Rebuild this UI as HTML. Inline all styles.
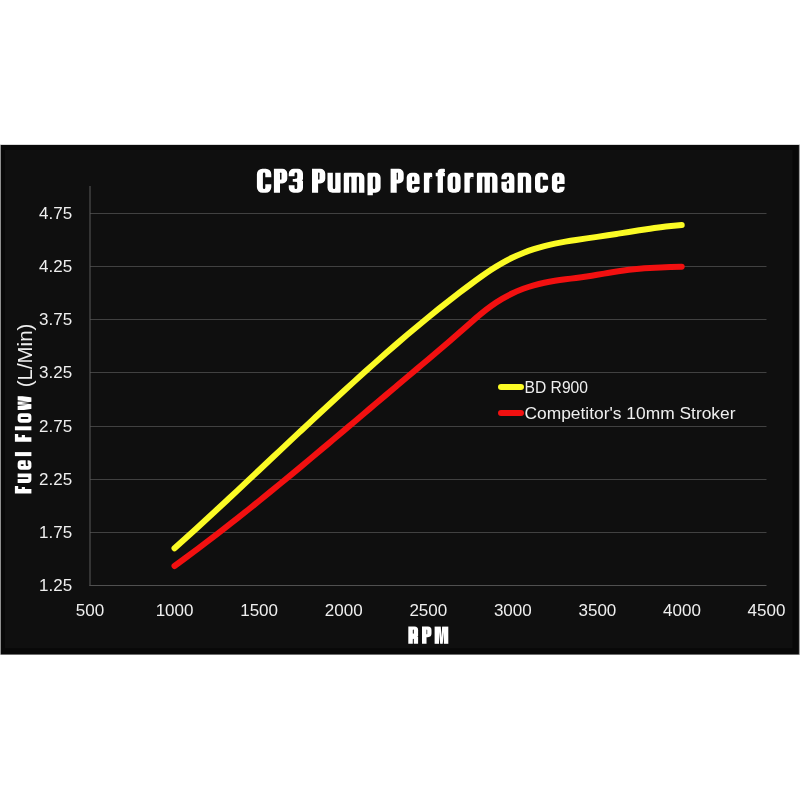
<!DOCTYPE html>
<html>
<head>
<meta charset="utf-8">
<title>CP3 Pump Performance</title>
<style>
  html, body { margin: 0; padding: 0; background: #ffffff; }
  body { width: 800px; height: 800px; overflow: hidden; font-family: "Liberation Sans", sans-serif; }
  svg { display: block; will-change: transform; }
  text { font-family: "Liberation Sans", sans-serif; }
  .tick { font-size: 17px; fill: #efefef; }
</style>
</head>
<body>
<svg width="800" height="800" viewBox="0 0 800 800">
  <rect x="0" y="0" width="800" height="800" fill="#ffffff"/>
  <!-- chart panel -->
  <rect x="0" y="144.6" width="800" height="510.2" fill="#a0a0a0"/>
  <rect x="0.9" y="145" width="798" height="509.4" fill="#080808"/>
  <rect x="5" y="150" width="787.5" height="498.2" fill="#0f0f0f"/>

  <!-- gridlines -->
  <g fill="#414141">
    <rect x="90" y="213" width="676.5" height="1"/>
    <rect x="90" y="266" width="676.5" height="1"/>
    <rect x="90" y="319" width="676.5" height="1"/>
    <rect x="90" y="372" width="676.5" height="1"/>
    <rect x="90" y="426" width="676.5" height="1"/>
    <rect x="90" y="479" width="676.5" height="1"/>
    <rect x="90" y="532" width="676.5" height="1"/>
  </g>
  <!-- axes -->
  <g fill="#5a5a5a">
    <rect x="89.5" y="186" width="1" height="400"/>
    <rect x="89.5" y="585" width="677" height="1" fill="#505050"/>
  </g>
  <!-- title: CP3 Pump Performance -->
  <g transform="translate(0,192.75) scale(1.00000)">
    <g transform="translate(256.9,0)"><path fill="#ffffff" d="M5.5,-24H8.9A5.5,5.5 0 0 1 14.4,-18.5V-5.5A5.5,5.5 0 0 1 8.9,0H5.5A5.5,5.5 0 0 1 0,-5.5V-18.5A5.5,5.5 0 0 1 5.5,-24Z"/><path fill="#0f0f0f" d="M7.2,-20.2H7.2A1.2,1.2 0 0 1 8.4,-19V-5A1.2,1.2 0 0 1 7.2,-3.8H7.2A1.2,1.2 0 0 1 6,-5V-19A1.2,1.2 0 0 1 7.2,-20.2Z M7.8,-15.6H15V-8.4H7.8V-15.6Z"/></g>
    <g transform="translate(273.9,0)"><path fill="#ffffff" d="M0,-24H6.1V0H0V-24Z M0,-24H8.4A5,5 0 0 1 13.4,-19V-14.2A5,5 0 0 1 8.4,-9.2H0V-24Z"/><path fill="#0f0f0f" d="M6.85,-20.2H6.85A0.75,0.75 0 0 1 7.6,-19.45V-13.75A0.75,0.75 0 0 1 6.85,-13H6.85A0.75,0.75 0 0 1 6.1,-13.75V-19.45A0.75,0.75 0 0 1 6.85,-20.2Z"/></g>
    <g transform="translate(288.75,0)"><path fill="#ffffff" d="M5,-24H9.25A5,5 0 0 1 14.25,-19V-5A5,5 0 0 1 9.25,0H5A5,5 0 0 1 0,-5V-19A5,5 0 0 1 5,-24Z"/><path fill="#0f0f0f" d="M7.1,-20.2H7.15A1.3,1.3 0 0 1 8.45,-18.9V-15.3A1.3,1.3 0 0 1 7.15,-14H7.1A1.3,1.3 0 0 1 5.8,-15.3V-18.9A1.3,1.3 0 0 1 7.1,-20.2Z M7.1,-11H7.15A1.3,1.3 0 0 1 8.45,-9.7V-5.1A1.3,1.3 0 0 1 7.15,-3.8H7.1A1.3,1.3 0 0 1 5.8,-5.1V-9.7A1.3,1.3 0 0 1 7.1,-11Z M-0.6,-16.4H6.2V-13.8H-0.6V-16.4Z M-0.6,-14.2H4V-10.8H-0.6V-14.2Z M-0.6,-11H6.2V-7.4H-0.6V-11Z M14.85,-13.9L13.25,-12.5L14.85,-11.1Z"/></g>
    <g transform="translate(312,0)"><path fill="#ffffff" d="M0,-24H6.1V0H0V-24Z M0,-24H8.3A5,5 0 0 1 13.3,-19V-14.2A5,5 0 0 1 8.3,-9.2H0V-24Z"/><path fill="#0f0f0f" d="M6.8,-20.2H6.8A0.7,0.7 0 0 1 7.5,-19.5V-13.7A0.7,0.7 0 0 1 6.8,-13H6.8A0.7,0.7 0 0 1 6.1,-13.7V-19.5A0.7,0.7 0 0 1 6.8,-20.2Z"/></g>
    <g transform="translate(327.5,0)"><path fill="#ffffff" d="M0,-20H13.1V-1.2A1.2,1.2 0 0 1 11.9,0H5A5,5 0 0 1 0,-5V-20Z"/><path fill="#0f0f0f" d="M5.35,-21H7.75V-5A1.2,1.2 0 0 1 6.55,-3.8H6.55A1.2,1.2 0 0 1 5.35,-5V-21Z"/></g>
    <g transform="translate(343.75,0)"><path fill="#ffffff" d="M1.2,-20H15.65A5,5 0 0 1 20.65,-15V0H0V-18.8A1.2,1.2 0 0 1 1.2,-20Z"/><path fill="#0f0f0f" d="M6.5,-16.2H6.5A1.15,1.15 0 0 1 7.65,-15.05V1H5.35V-15.05A1.15,1.15 0 0 1 6.5,-16.2Z M14.15,-16.2H14.15A1.15,1.15 0 0 1 15.3,-15.05V1H13V-15.05A1.15,1.15 0 0 1 14.15,-16.2Z"/></g>
    <g transform="translate(367.5,0)"><path fill="#ffffff" d="M1.2,-20H8.1A5,5 0 0 1 13.1,-15V-5A5,5 0 0 1 8.1,0H0V-18.8A1.2,1.2 0 0 1 1.2,-20Z M0,-2H5.35V2.4H0V-2Z"/><path fill="#0f0f0f" d="M6.55,-16.2H6.55A1.2,1.2 0 0 1 7.75,-15V-5A1.2,1.2 0 0 1 6.55,-3.8H6.55A1.2,1.2 0 0 1 5.35,-5V-15A1.2,1.2 0 0 1 6.55,-16.2Z"/></g>
    <g transform="translate(390.6,0)"><path fill="#ffffff" d="M0,-24H6.1V0H0V-24Z M0,-24H8.1A5,5 0 0 1 13.1,-19V-14.2A5,5 0 0 1 8.1,-9.2H0V-24Z"/><path fill="#0f0f0f" d="M6.7,-20.2H6.7A0.6,0.6 0 0 1 7.3,-19.6V-13.6A0.6,0.6 0 0 1 6.7,-13H6.7A0.6,0.6 0 0 1 6.1,-13.6V-19.6A0.6,0.6 0 0 1 6.7,-20.2Z"/></g>
    <g transform="translate(406.7,0)"><path fill="#ffffff" d="M5,-20H7.9A5,5 0 0 1 12.9,-15V-5A5,5 0 0 1 7.9,0H5A5,5 0 0 1 0,-5V-15A5,5 0 0 1 5,-20Z"/><path fill="#0f0f0f" d="M6.45,-16.2H6.45A1.1,1.1 0 0 1 7.55,-15.1V-12.7A1.1,1.1 0 0 1 6.45,-11.6H6.45A1.1,1.1 0 0 1 5.35,-12.7V-15.1A1.1,1.1 0 0 1 6.45,-16.2Z M6.45,-8.8H6.45A1.1,1.1 0 0 1 7.55,-7.7V-4.9A1.1,1.1 0 0 1 6.45,-3.8H6.45A1.1,1.1 0 0 1 5.35,-4.9V-7.7A1.1,1.1 0 0 1 6.45,-8.8Z M6.95,-8.8H13.5V-6.1H6.95V-8.8Z"/></g>
    <g transform="translate(423.9,0)"><path fill="#ffffff" d="M0,-20H5.35V0H0V-20Z M4.35,-20H7.1A1.2,1.2 0 0 1 8.3,-18.8V-14.6A0.6,0.6 0 0 1 7.7,-14H4.35V-20Z"/><path fill="#0f0f0f" d="M5.35,-14L8.8,-14L8.8,-15.4L6.55,-15.8Z"/></g>
    <g transform="translate(435.7,0)"><path fill="#ffffff" d="M5.55,-24H8.4A0.8,0.8 0 0 1 9.2,-23.2V0H1.9V-20.35A3.65,3.65 0 0 1 5.55,-24Z M0,-20H9.2V-16.6H0V-20Z"/><path fill="#0f0f0f" d="M7.25,-16.6H16.45V3.4H7.25V-16.6Z M9.8,-21L7.7,-20.2L9.8,-19.4Z"/></g>
    <g transform="translate(447.5,0)"><path fill="#ffffff" d="M5,-20H8.1A5,5 0 0 1 13.1,-15V-5A5,5 0 0 1 8.1,0H5A5,5 0 0 1 0,-5V-15A5,5 0 0 1 5,-20Z"/><path fill="#0f0f0f" d="M6.55,-16.2H6.55A1.2,1.2 0 0 1 7.75,-15V-5A1.2,1.2 0 0 1 6.55,-3.8H6.55A1.2,1.2 0 0 1 5.35,-5V-15A1.2,1.2 0 0 1 6.55,-16.2Z"/></g>
    <g transform="translate(464.4,0)"><path fill="#ffffff" d="M0,-20H5.35V0H0V-20Z M4.35,-20H8A1.2,1.2 0 0 1 9.2,-18.8V-14.6A0.6,0.6 0 0 1 8.6,-14H4.35V-20Z"/><path fill="#0f0f0f" d="M5.35,-14L9.7,-14L9.7,-15.4L6.55,-15.8Z"/></g>
    <g transform="translate(476.9,0)"><path fill="#ffffff" d="M1.2,-20H15.6A5,5 0 0 1 20.6,-15V0H0V-18.8A1.2,1.2 0 0 1 1.2,-20Z"/><path fill="#0f0f0f" d="M6.49,-16.2H6.49A1.14,1.14 0 0 1 7.63,-15.06V1H5.35V-15.06A1.14,1.14 0 0 1 6.49,-16.2Z M14.11,-16.2H14.11A1.14,1.14 0 0 1 15.25,-15.06V1H12.98V-15.06A1.14,1.14 0 0 1 14.11,-16.2Z"/></g>
    <g transform="translate(501.4,0)"><path fill="#ffffff" d="M5,-20H8A5,5 0 0 1 13,-15V-1.2A1.2,1.2 0 0 1 11.8,0H5A5,5 0 0 1 0,-5V-15A5,5 0 0 1 5,-20Z"/><path fill="#0f0f0f" d="M6.5,-9.4H6.5A1.15,1.15 0 0 1 7.65,-8.25V-4.95A1.15,1.15 0 0 1 6.5,-3.8H6.5A1.15,1.15 0 0 1 5.35,-4.95V-8.25A1.15,1.15 0 0 1 6.5,-9.4Z M6.5,-16.2H6.5A1.15,1.15 0 0 1 7.65,-15.05V-13.15A1.15,1.15 0 0 1 6.5,-12H6.5A1.15,1.15 0 0 1 5.35,-13.15V-15.05A1.15,1.15 0 0 1 6.5,-16.2Z M-0.6,-13.6H5.75V-11H-0.6V-13.6Z"/></g>
    <g transform="translate(517.7,0)"><path fill="#ffffff" d="M1.2,-20H8.5A5,5 0 0 1 13.5,-15V0H0V-18.8A1.2,1.2 0 0 1 1.2,-20Z"/><path fill="#0f0f0f" d="M6.65,-16.2H6.85A1.3,1.3 0 0 1 8.15,-14.9V1H5.35V-14.9A1.3,1.3 0 0 1 6.65,-16.2Z"/></g>
    <g transform="translate(535,0)"><path fill="#ffffff" d="M5,-20H8.1A5,5 0 0 1 13.1,-15V-5A5,5 0 0 1 8.1,0H5A5,5 0 0 1 0,-5V-15A5,5 0 0 1 5,-20Z"/><path fill="#0f0f0f" d="M6.55,-16.2H6.55A1.2,1.2 0 0 1 7.75,-15V-5A1.2,1.2 0 0 1 6.55,-3.8H6.55A1.2,1.2 0 0 1 5.35,-5V-15A1.2,1.2 0 0 1 6.55,-16.2Z M7.15,-13H13.7V-7H7.15V-13Z"/></g>
    <g transform="translate(551.9,0)"><path fill="#ffffff" d="M5,-20H7.7A5,5 0 0 1 12.7,-15V-5A5,5 0 0 1 7.7,0H5A5,5 0 0 1 0,-5V-15A5,5 0 0 1 5,-20Z"/><path fill="#0f0f0f" d="M6.35,-16.2H6.35A1,1 0 0 1 7.35,-15.2V-12.6A1,1 0 0 1 6.35,-11.6H6.35A1,1 0 0 1 5.35,-12.6V-15.2A1,1 0 0 1 6.35,-16.2Z M6.35,-8.8H6.35A1,1 0 0 1 7.35,-7.8V-4.8A1,1 0 0 1 6.35,-3.8H6.35A1,1 0 0 1 5.35,-4.8V-7.8A1,1 0 0 1 6.35,-8.8Z M6.75,-8.8H13.3V-6.1H6.75V-8.8Z"/></g>
  </g>
  <!-- y tick labels -->
  <g class="tick" text-anchor="end">
    <text x="72.1" y="219">4.75</text>
    <text x="72.1" y="272">4.25</text>
    <text x="72.1" y="325">3.75</text>
    <text x="72.1" y="378">3.25</text>
    <text x="72.1" y="432">2.75</text>
    <text x="72.1" y="485">2.25</text>
    <text x="72.1" y="538">1.75</text>
    <text x="72.1" y="591">1.25</text>
  </g>
  <!-- x tick labels -->
  <g class="tick" text-anchor="middle">
    <text x="90" y="615.5">500</text>
    <text x="174.56" y="615.5">1000</text>
    <text x="259.1" y="615.5">1500</text>
    <text x="343.7" y="615.5">2000</text>
    <text x="428.3" y="615.5">2500</text>
    <text x="512.8" y="615.5">3000</text>
    <text x="597.4" y="615.5">3500</text>
    <text x="682" y="615.5">4000</text>
    <text x="766.5" y="615.5">4500</text>
  </g>
  <!-- x axis title: RPM -->
  <g transform="translate(0,643.8) scale(0.71667)">
    <g transform="translate(569.72,0)"><path fill="#ffffff" d="M0,-24H8.67A5,5 0 0 1 13.67,-19V0H0V-24Z"/><path fill="#0f0f0f" d="M6.99,-19.9H6.99A0.69,0.69 0 0 1 7.67,-19.21V-14.59A0.69,0.69 0 0 1 6.99,-13.9H6.99A0.69,0.69 0 0 1 6.3,-14.59V-19.21A0.69,0.69 0 0 1 6.99,-19.9Z M6.99,-6.9H6.99A0.69,0.69 0 0 1 7.67,-6.21V4.1H6.3V-6.21A0.69,0.69 0 0 1 6.99,-6.9Z M14.27,-11.4L12.57,-10.3L14.27,-9.2Z"/></g>
    <g transform="translate(588.84,0)"><path fill="#ffffff" d="M0,-24H6.3V0H0V-24Z M0,-24H8.26A5,5 0 0 1 13.26,-19V-14.2A5,5 0 0 1 8.26,-9.2H0V-24Z"/><path fill="#0f0f0f" d="M6.78,-19.9H6.78A0.48,0.48 0 0 1 7.26,-19.42V-13.78A0.48,0.48 0 0 1 6.78,-13.3H6.78A0.48,0.48 0 0 1 6.3,-13.78V-19.42A0.48,0.48 0 0 1 6.78,-19.9Z"/></g>
    <g transform="translate(606.42,0)"><path fill="#ffffff" d="M0,-24H19.12V0H0V-24Z"/><path fill="#0f0f0f" d="M8.6,-25L10.52,-25L9.56,-8.5Z M6.2,1L6.2,-16.5L7.86,1Z M12.92,1L12.92,-16.5L11.26,1Z"/></g>
  </g>
  <!-- y axis title: Fuel Flow (L/Min) -->
  <g transform="translate(31.4,493.4) rotate(-90) scale(0.68750)">
    <g transform="translate(0,0)"><path fill="#ffffff" d="M0,-24H6.45V0H0V-24Z M0,-24H10.76V-19.2H0V-24Z M0,-14H9.36V-9.4H0V-14Z"/></g>
    <g transform="translate(15.27,0)"><path fill="#ffffff" d="M0,-20H13.82V-1.2A1.2,1.2 0 0 1 12.62,0H5A5,5 0 0 1 0,-5V-20Z"/><path fill="#0f0f0f" d="M5.7,-21H8.12V-5.53A1.21,1.21 0 0 1 6.91,-4.32H6.91A1.21,1.21 0 0 1 5.7,-5.53V-21Z"/></g>
    <g transform="translate(34.33,0)"><path fill="#ffffff" d="M5,-20H8.82A5,5 0 0 1 13.82,-15V-5A5,5 0 0 1 8.82,0H5A5,5 0 0 1 0,-5V-15A5,5 0 0 1 5,-20Z"/><path fill="#0f0f0f" d="M6.91,-15.68H6.91A1.21,1.21 0 0 1 8.12,-14.47V-12.28A1.21,1.21 0 0 1 6.91,-11.08H6.91A1.21,1.21 0 0 1 5.7,-12.28V-14.47A1.21,1.21 0 0 1 6.91,-15.68Z M6.91,-8.28H6.91A1.21,1.21 0 0 1 8.12,-7.07V-5.53A1.21,1.21 0 0 1 6.91,-4.32H6.91A1.21,1.21 0 0 1 5.7,-5.53V-7.07A1.21,1.21 0 0 1 6.91,-8.28Z M7.52,-8.28H14.42V-5.58H7.52V-8.28Z"/></g>
    <g transform="translate(54.25,0)"><path fill="#ffffff" d="M0,-24H5.82V0H0V-24Z"/></g>
    <g transform="translate(75.05,0)"><path fill="#ffffff" d="M0,-24H6.45V0H0V-24Z M0,-24H11.2V-19.2H0V-24Z M0,-14H9.8V-9.4H0V-14Z"/></g>
    <g transform="translate(91.78,0)"><path fill="#ffffff" d="M0,-24H5.82V0H0V-24Z"/></g>
    <g transform="translate(102.69,0)"><path fill="#ffffff" d="M5,-20H8.96A5,5 0 0 1 13.96,-15V-5A5,5 0 0 1 8.96,0H5A5,5 0 0 1 0,-5V-15A5,5 0 0 1 5,-20Z"/><path fill="#0f0f0f" d="M6.98,-15.68H6.98A1.28,1.28 0 0 1 8.26,-14.39V-5.61A1.28,1.28 0 0 1 6.98,-4.32H6.98A1.28,1.28 0 0 1 5.7,-5.61V-14.39A1.28,1.28 0 0 1 6.98,-15.68Z"/></g>
    <g transform="translate(121.31,0)"><path fill="#ffffff" d="M0,-20H20.07V0H0V-20Z"/><path fill="#0f0f0f" d="M5.85,-21L7.71,-21L7.74,-5Z M12.36,-21L14.22,-21L12.33,-5Z M-0.6,1L-0.6,-15.5L1.89,1Z M20.67,1L20.67,-15.5L18.18,1Z M8.24,1L10.04,-14.5L11.83,1Z"/></g>
  </g>
  <g transform="translate(32,387.2) rotate(-90)"><text x="0" y="0" font-size="19.5" fill="#efefef" textLength="63.5" lengthAdjust="spacingAndGlyphs">(L/Min)</text></g>
  <!-- series -->
  <g fill="none" stroke-width="6" stroke-linecap="round" stroke-linejoin="round">
    <path id="red" stroke="#f21010" d="M174.50,565.97 C178.02,563.43 181.54,560.86 185.07,558.27 C188.59,555.68 192.11,553.06 195.63,550.43 C199.16,547.79 202.68,545.14 206.20,542.46 C209.72,539.78 213.24,537.09 216.77,534.37 C220.29,531.66 223.81,528.93 227.33,526.18 C230.86,523.42 234.38,520.66 237.90,517.87 C241.42,515.09 244.94,512.29 248.47,509.48 C251.99,506.66 255.51,503.83 259.03,500.99 C262.56,498.15 266.08,495.29 269.60,492.42 C273.12,489.56 276.64,486.68 280.17,483.78 C283.69,480.89 287.21,477.99 290.73,475.08 C294.26,472.17 297.78,469.25 301.30,466.32 C304.82,463.39 308.34,460.45 311.87,457.51 C315.39,454.56 318.91,451.61 322.43,448.66 C325.96,445.70 329.48,442.74 333.00,439.77 C336.52,436.80 340.04,433.83 343.57,430.86 C347.09,427.88 350.61,424.91 354.13,421.93 C357.66,418.95 361.18,415.97 364.70,412.99 C368.22,410.00 371.74,407.02 375.27,404.04 C378.79,401.06 382.31,398.08 385.83,395.10 C389.36,392.12 392.88,389.15 396.40,386.17 C399.92,383.20 403.44,380.23 406.97,377.27 C410.49,374.30 414.01,371.34 417.53,368.39 C421.06,365.43 424.58,362.47 428.10,359.49 C431.62,356.52 435.14,353.54 438.67,350.54 C442.19,347.54 445.71,344.52 449.23,341.47 C452.76,338.43 456.28,335.35 459.80,332.24 C463.32,329.12 466.84,325.97 470.37,322.88 C473.89,319.78 477.41,316.74 480.93,313.86 C484.46,310.97 487.98,308.25 491.50,305.75 C495.02,303.26 498.54,300.97 502.07,298.89 C505.59,296.81 509.11,294.93 512.63,293.24 C516.16,291.55 519.68,290.05 523.20,288.73 C526.72,287.40 530.24,286.26 533.77,285.27 C537.29,284.28 540.81,283.44 544.33,282.71 C547.86,281.98 551.38,281.36 554.90,280.80 C558.42,280.25 561.94,279.76 565.47,279.29 C568.99,278.83 572.51,278.39 576.03,277.93 C579.56,277.48 583.08,277.00 586.60,276.47 C590.12,275.94 593.64,275.37 597.17,274.77 C600.69,274.18 604.21,273.57 607.73,272.97 C611.26,272.37 614.78,271.78 618.30,271.24 C621.82,270.69 625.34,270.19 628.87,269.76 C632.39,269.33 635.91,268.98 639.43,268.68 C642.96,268.38 646.48,268.15 650.00,267.95 C653.52,267.75 657.04,267.59 660.57,267.45 C664.09,267.31 667.61,267.19 671.13,267.07 C674.66,266.95 678.18,266.83 681.70,266.69"/>
    <path id="yel" stroke="#fbfb25" d="M174.50,548.28 C178.02,545.13 181.54,541.97 185.07,538.79 C188.59,535.61 192.11,532.41 195.63,529.20 C199.16,525.99 202.68,522.76 206.20,519.52 C209.72,516.28 213.24,513.03 216.77,509.77 C220.29,506.50 223.81,503.23 227.33,499.95 C230.86,496.67 234.38,493.38 237.90,490.08 C241.42,486.79 244.94,483.48 248.47,480.18 C251.99,476.87 255.51,473.56 259.03,470.24 C262.56,466.93 266.08,463.61 269.60,460.29 C273.12,456.97 276.64,453.66 280.17,450.34 C283.69,447.02 287.21,443.71 290.73,440.40 C294.26,437.08 297.78,433.78 301.30,430.47 C304.82,427.17 308.34,423.87 311.87,420.58 C315.39,417.30 318.91,414.01 322.43,410.74 C325.96,407.47 329.48,404.21 333.00,400.96 C336.52,397.70 340.04,394.46 343.57,391.24 C347.09,388.01 350.61,384.80 354.13,381.60 C357.66,378.41 361.18,375.23 364.70,372.06 C368.22,368.90 371.74,365.75 375.27,362.63 C378.79,359.50 382.31,356.39 385.83,353.31 C389.36,350.23 392.88,347.16 396.40,344.12 C399.92,341.08 403.44,338.07 406.97,335.08 C410.49,332.09 414.01,329.12 417.53,326.19 C421.06,323.25 424.58,320.34 428.10,317.46 C431.62,314.58 435.14,311.73 438.67,308.92 C442.19,306.10 445.71,303.31 449.23,300.56 C452.76,297.81 456.28,295.09 459.80,292.41 C463.32,289.72 466.84,287.08 470.37,284.47 C473.89,281.86 477.41,279.28 480.93,276.77 C484.46,274.25 487.98,271.81 491.50,269.51 C495.02,267.20 498.54,265.04 502.07,263.05 C505.59,261.06 509.11,259.24 512.63,257.57 C516.16,255.89 519.68,254.37 523.20,252.98 C526.72,251.59 530.24,250.33 533.77,249.20 C537.29,248.06 540.81,247.04 544.33,246.12 C547.86,245.20 551.38,244.39 554.90,243.65 C558.42,242.91 561.94,242.24 565.47,241.63 C568.99,241.02 572.51,240.46 576.03,239.93 C579.56,239.40 583.08,238.90 586.60,238.40 C590.12,237.91 593.64,237.41 597.17,236.90 C600.69,236.39 604.21,235.85 607.73,235.30 C611.26,234.76 614.78,234.20 618.30,233.63 C621.82,233.07 625.34,232.51 628.87,231.94 C632.39,231.38 635.91,230.83 639.43,230.28 C642.96,229.74 646.48,229.21 650.00,228.71 C653.52,228.20 657.04,227.72 660.57,227.27 C664.09,226.82 667.61,226.40 671.13,226.02 C674.66,225.64 678.18,225.30 681.70,225.01"/>
  </g>
  <!-- legend -->
  <g stroke-width="6" stroke-linecap="round">
    <line x1="501" y1="387" x2="521" y2="387" stroke="#fbfb25"/>
    <line x1="501" y1="413" x2="521" y2="413" stroke="#f21010"/>
  </g>
  <g font-size="16.5" fill="#efefef">
    <text x="524.5" y="393" textLength="63.5" lengthAdjust="spacingAndGlyphs">BD R900</text>
    <text x="524.5" y="419" textLength="211" lengthAdjust="spacingAndGlyphs">Competitor's 10mm Stroker</text>
  </g>
</svg>
</body>
</html>
